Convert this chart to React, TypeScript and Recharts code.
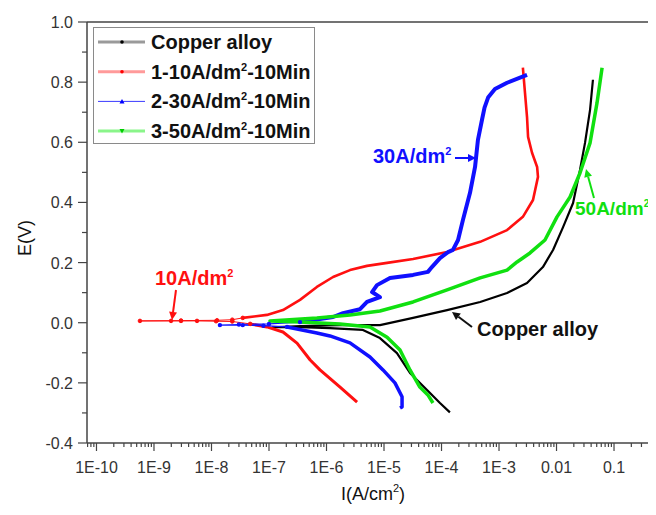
import React from 'react';
import { LineChart, Line, XAxis, YAxis } from 'recharts';

// Tafel polarization curves, current density I (A/cm2) vs potential E (V)
const copperI = [1.4e-4, 9.4e-5, 5.6e-5, 2.83e-5, 1.68e-5, 8.5e-6, 4.3e-6, 1.15e-6, 3.5e-7, 1.17e-7, 3.5e-7, 1.7e-6, 8.5e-6, 3.2e-5, 1.25e-4, 4.7e-4, 1.38e-3, 3.07e-3, 5.8e-3, 8.7e-3, 1.3e-2, 1.94e-2, 2.56e-2, 3.13e-2, 3.83e-2, 4.3e-2];
const copperE = [-0.298, -0.267, -0.224, -0.167, -0.101, -0.051, -0.024, -0.018, -0.015, -0.015, -0.011, -0.008, -0.008, 0.016, 0.042, 0.069, 0.099, 0.132, 0.185, 0.242, 0.318, 0.398, 0.508, 0.598, 0.708, 0.808];

const red10CathI = [3.4e-6, 1.72e-6, 7.7e-7, 5.2e-7, 3.07e-7, 1.75e-7, 9.2e-8, 4.7e-8];
const red10CathE = [-0.264, -0.214, -0.157, -0.124, -0.068, -0.031, -0.014, -0.004];
const red10CorrI = [4.7e-8, 2.3e-8, 1.2e-8, 5.6e-9, 2.95e-9, 1.98e-9, 5.7e-10, 2.95e-9, 1.25e-8, 2.3e-8, 3.5e-8];
const red10CorrE = [-0.004, 0.004, 0.005, 0.006, 0.006, 0.006, 0.006, 0.007, 0.008, 0.01, 0.016];
const red10AnI = [3.5e-8, 9.2e-8, 1.75e-7, 3.46e-7, 6.8e-7, 1.3e-6, 2.56e-6, 5.06e-6, 1.13e-5, 3.2e-5, 1.25e-4, 4.7e-4, 1.38e-3, 2.6e-3, 3.9e-3, 4.76e-3, 4.6e-3, 3.75e-3, 3.2e-3, 3.07e-3, 2.83e-3, 2.6e-3];
const red10AnE = [0.016, 0.026, 0.042, 0.076, 0.119, 0.152, 0.175, 0.189, 0.199, 0.212, 0.235, 0.269, 0.308, 0.352, 0.408, 0.485, 0.518, 0.565, 0.618, 0.684, 0.764, 0.848];

const blue30CathI = [1.9e-5, 2.06e-5, 2.06e-5, 1.55e-5, 9.6e-6, 5.7e-6, 2.56e-6, 1.15e-6, 6.8e-7, 2.06e-7];
const blue30CathE = [-0.284, -0.28, -0.246, -0.2, -0.157, -0.114, -0.067, -0.044, -0.034, -0.014];
const blue30CorrI = [2.06e-7, 8e-8, 3.5e-8, 1.4e-8, 3e-8, 1e-7, 3.46e-7];
const blue30CorrE = [-0.014, -0.01, -0.008, -0.008, -0.006, -0.004, 0.002];
const blue30AnI = [3.46e-7, 1.3e-6, 1.94e-6, 3.83e-6, 5.06e-6, 8.5e-6, 6.2e-6, 7.55e-6, 1.27e-5, 3.2e-5, 5.8e-5, 6.8e-5, 9.4e-5, 1.3e-4, 1.58e-4, 1.94e-4, 2.36e-4, 3.13e-4, 3.83e-4, 4.3e-4, 5.06e-4, 5.6e-4, 6.5e-4, 8.5e-4, 1.38e-3, 3.07e-3];
const blue30AnE = [0.002, 0.019, 0.032, 0.045, 0.069, 0.085, 0.102, 0.125, 0.149, 0.159, 0.169, 0.185, 0.215, 0.235, 0.242, 0.275, 0.342, 0.432, 0.518, 0.608, 0.675, 0.715, 0.75, 0.777, 0.798, 0.824];

const green50I = [7.1e-5, 5.8e-5, 4.2e-5, 2.83e-5, 1.9e-5, 1.13e-5, 5.7e-6, 1.72e-6, 3.46e-7, 1.04e-7, 6.8e-7, 2.56e-6, 8.5e-6, 3.2e-5, 1.25e-4, 4.7e-4, 1.38e-3, 2.06e-3, 3.46e-3, 6.3e-3, 1.02e-2, 1.72e-2, 2.56e-2, 3.83e-2, 5.06e-2, 6.2e-2];
const green50E = [-0.267, -0.24, -0.214, -0.157, -0.091, -0.048, -0.014, -0.004, 0.002, 0.006, 0.016, 0.026, 0.039, 0.069, 0.109, 0.149, 0.175, 0.202, 0.232, 0.275, 0.352, 0.418, 0.498, 0.598, 0.731, 0.848];

const decadeValues = [1e-10, 1e-9, 1e-8, 1e-7, 1e-6, 1e-5, 1e-4, 1e-3, 1e-2, 1e-1];
const decadeLabels = ['1E-10', '1E-9', '1E-8', '1E-7', '1E-6', '1E-5', '1E-4', '1E-3', '0.01', '0.1'];
const eTicks = [-0.4, -0.3, -0.2, -0.1, 0, 0.1, 0.2, 0.3, 0.4, 0.5, 0.6, 0.7, 0.8, 0.9, 1.0];

const X_MIN = 6.84e-11;
const X_MAX = 0.537;

const zip = (xs: number[], ys: number[]) => xs.map((i, k) => ({ i, e: ys[k] }));

// major decade ticks plus 2..9 minor ticks inside the domain
const xTicks: number[] = [];
for (let p = -11; p <= -1; p++) {
  for (let m = 1; m <= 9; m++) {
    const v = m * Math.pow(10, p);
    if (v >= X_MIN && v <= X_MAX) xTicks.push(v);
  }
}

const FONT = '"Liberation Sans", Arial, sans-serif';
const AXIS = '#444';

function XTick(props: any) {
  const { x, y, payload } = props;
  const v = payload.value as number;
  const idx = decadeValues.findIndex((d) => Math.abs(Math.log10(d) - Math.log10(v)) < 1e-6);
  const major = idx >= 0;
  return (
    <g>
      <line x1={x} x2={x} y1={y} y2={y + (major ? 8 : 4)} stroke={AXIS} strokeWidth={1.2} />
      {major && (
        <text x={x} y={y + 30} textAnchor="middle" fontSize={16} fill="#333" fontFamily={FONT}>
          {decadeLabels[idx]}
        </text>
      )}
    </g>
  );
}

function YTick(props: any) {
  const { x, y, payload } = props;
  const v = payload.value as number;
  const major = Math.abs(Math.round(v * 10) % 2) === 0;
  return (
    <g>
      <line x1={x} x2={x - (major ? 9 : 5)} y1={y} y2={y} stroke={AXIS} strokeWidth={1.2} />
      {major && (
        <text x={x - 14} y={y + 6} textAnchor="end" fontSize={16} fill="#333" fontFamily={FONT}>
          {v.toFixed(1)}
        </text>
      )}
    </g>
  );
}

function Arrow({ x1, y1, x2, y2, color }: { x1: number; y1: number; x2: number; y2: number; color: string }) {
  const a = Math.atan2(y2 - y1, x2 - x1);
  const l = 8;
  const w = 4;
  const bx = x2 - l * Math.cos(a);
  const by = y2 - l * Math.sin(a);
  const px = -Math.sin(a) * w;
  const py = Math.cos(a) * w;
  return (
    <g>
      <line x1={x1} y1={y1} x2={bx} y2={by} stroke={color} strokeWidth={2} />
      <polygon points={`${x2},${y2} ${bx + px},${by + py} ${bx - px},${by - py}`} fill={color} />
    </g>
  );
}

const legendRows = [
  { name: 'Copper alloy', pre: 'Copper alloy', post: '', line: '#9a9a9a', lw: 3, mark: 'dot', mc: '#000' },
  { name: '1-10A/dm2-10Min', pre: '1-10A/dm', post: '-10Min', line: '#ff9a9a', lw: 3, mark: 'dot', mc: '#f00' },
  { name: '2-30A/dm2-10Min', pre: '2-30A/dm', post: '-10Min', line: '#3a3aff', lw: 1, mark: 'up', mc: '#00f' },
  { name: '3-50A/dm2-10Min', pre: '3-50A/dm', post: '-10Min', line: '#8af58a', lw: 3, mark: 'down', mc: '#0c0' },
];

export default function App() {
  const copper = zip(copperI, copperE);
  const redCath = zip(red10CathI, red10CathE);
  const redCorr = zip(red10CorrI, red10CorrE);
  const redAn = zip(red10AnI, red10AnE);
  const blueCath = zip(blue30CathI, blue30CathE);
  const blueCorr = zip(blue30CorrI, blue30CorrE);
  const blueAn = zip(blue30AnI, blue30AnE);
  const green = zip(green50I, green50E);

  const RED = '#ff1010';
  const BLUE = '#1010ff';
  const GREEN = '#10e010';

  return (
    <div style={{ position: 'relative', width: 648, height: 500, fontFamily: FONT }}>
      <LineChart width={648} height={500} margin={{ top: 14, right: 0, left: 0, bottom: 0 }}>
        <XAxis
          dataKey="i"
          type="number"
          scale="log"
          domain={[X_MIN, X_MAX]}
          allowDataOverflow
          ticks={xTicks}
          interval={0}
          tick={<XTick />}
          tickSize={0}
          tickMargin={0}
          tickLine={false}
          height={65}
          axisLine={{ stroke: AXIS, strokeWidth: 1.5 }}
        />
        <YAxis
          dataKey="e"
          type="number"
          domain={[-0.4, 1.0]}
          allowDataOverflow
          ticks={eTicks}
          interval={0}
          tick={<YTick />}
          tickSize={0}
          tickMargin={0}
          tickLine={false}
          width={79}
          axisLine={{ stroke: AXIS, strokeWidth: 1.5 }}
        />
        <Line data={copper} dataKey="e" type="linear" stroke="#000" strokeWidth={2.2} strokeLinejoin="round" dot={false} isAnimationActive={false} />
        <Line data={redCath} dataKey="e" type="linear" stroke={RED} strokeWidth={3} strokeLinejoin="round" dot={false} isAnimationActive={false} />
        <Line data={redCorr} dataKey="e" type="linear" stroke={RED} strokeWidth={1} dot={{ r: 1.8, fill: RED, stroke: RED }} isAnimationActive={false} />
        <Line data={redAn} dataKey="e" type="linear" stroke={RED} strokeWidth={2.6} strokeLinejoin="round" dot={false} isAnimationActive={false} />
        <Line data={blueCath} dataKey="e" type="linear" stroke={BLUE} strokeWidth={3.5} strokeLinejoin="round" dot={false} isAnimationActive={false} />
        <Line data={blueCorr} dataKey="e" type="linear" stroke={BLUE} strokeWidth={1.2} dot={{ r: 1.6, fill: BLUE, stroke: BLUE }} isAnimationActive={false} />
        <Line data={blueAn} dataKey="e" type="linear" stroke={BLUE} strokeWidth={4} strokeLinejoin="round" dot={false} isAnimationActive={false} />
        <Line data={green} dataKey="e" type="linear" stroke={GREEN} strokeWidth={3.5} strokeLinejoin="round" dot={false} isAnimationActive={false} />
      </LineChart>

      <svg
        width={656}
        height={515}
        style={{ position: 'absolute', left: -8, top: -8, pointerEvents: 'none' }}
        fontFamily={FONT}
      >
        <line x1={87} y1={22} x2={656} y2={22} stroke={AXIS} strokeWidth={1.5} />

        <rect x={93.5} y={27.5} width={221} height={116} fill="none" stroke="#8a8a8a" strokeWidth={1} />
        {legendRows.map((r, k) => {
          const cy = 42 + k * 29.7;
          return (
            <g key={r.name}>
              <line x1={98} x2={145} y1={cy} y2={cy} stroke={r.line} strokeWidth={r.lw} />
              {r.mark === 'dot' && <circle cx={122} cy={cy} r={1.8} fill={r.mc} />}
              {r.mark === 'up' && <polygon points={`122,${cy - 2.5} 119.5,${cy + 2} 124.5,${cy + 2}`} fill={r.mc} />}
              {r.mark === 'down' && <polygon points={`122,${cy + 2.5} 119.5,${cy - 2} 124.5,${cy - 2}`} fill={r.mc} />}
              <text x={151} y={cy + 7} fontSize={20} fontWeight="bold" fill="#111">
                {r.pre}
                {r.post && (
                  <>
                    <tspan dy={-8} fontSize={11}>2</tspan>
                    <tspan dy={8}>{r.post}</tspan>
                  </>
                )}
              </text>
            </g>
          );
        })}

        <text x={373} y={163} fontSize={20} fontWeight="bold" fill={BLUE}>
          30A/dm<tspan dy={-8} fontSize={11}>2</tspan>
        </text>
        <Arrow x1={455} y1={158} x2={476} y2={158} color={BLUE} />

        <text x={575} y={215} fontSize={19} fontWeight="bold" fill={GREEN}>
          50A/dm<tspan dy={-8} fontSize={10}>2</tspan>
        </text>
        <Arrow x1={594} y1={198} x2={586} y2={169} color={GREEN} />

        <text x={477} y={336} fontSize={20} fontWeight="bold" fill="#111">
          Copper alloy
        </text>
        <Arrow x1={472} y1={327} x2={452} y2={312} color="#111" />

        <text x={155} y={285} fontSize={20} fontWeight="bold" fill={RED}>
          10A/dm<tspan dy={-8} fontSize={11}>2</tspan>
        </text>
        <Arrow x1={176} y1={290} x2={172} y2={320} color={RED} />

        <text x={31} y={238} fontSize={18} fill="#111" textAnchor="middle" transform="rotate(-90 31 238)">
          E(V)
        </text>
        <text x={373} y={500} fontSize={18} fill="#111" textAnchor="middle">
          I(A/cm<tspan dy={-8} fontSize={11}>2</tspan>
          <tspan dy={8}>)</tspan>
        </text>
      </svg>
    </div>
  );
}
